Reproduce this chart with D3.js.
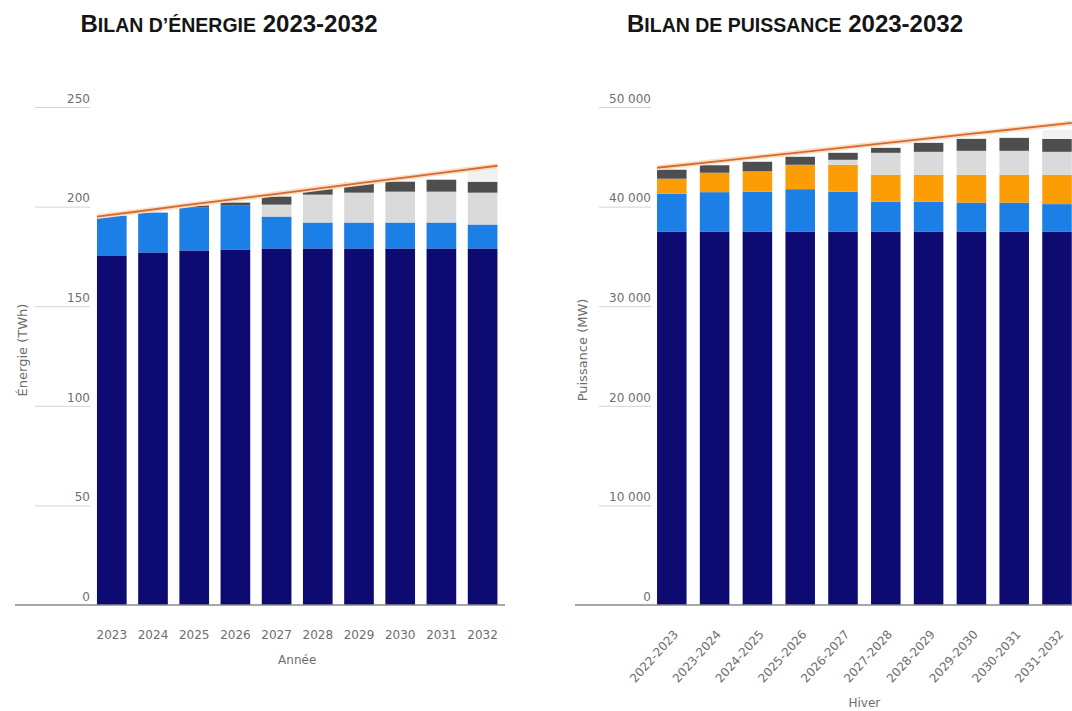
<!DOCTYPE html>
<html>
<head>
<meta charset="utf-8">
<script src="https://cdn.jsdelivr.net/npm/d3@7"></script>
<style>
  body { margin: 0; background: #fff; }
  svg { display: block; }
  .titre { font-family: "Liberation Sans", Arial, sans-serif; font-weight: bold; fill: #151515; }
  .tick text, .lbl { font-family: "DejaVu Sans", Verdana, sans-serif; fill: #6e6e6e; }
</style>
</head>
<body>
<svg id="chart" width="1072" height="711"></svg>
<script>
// --- données : bilan d'énergie (TWh) ---
var annees = ["2023", "2024", "2025", "2026", "2027", "2028", "2029", "2030", "2031", "2032"];
var energieBase = [175.5, 177, 178, 178.5, 179, 179, 179, 179, 179, 179];
var energieBleu = [20, 20, 21.5, 22, 16, 13, 13, 13, 13, 12];
var energieGrisClair = [0, 0, 0, 0, 6, 14, 15, 15.5, 15.5, 16];
var energieGrisFonce = [0, 0, 1, 1.5, 4, 3, 5, 5, 6, 5.5];
var energieClair = [0, 0, 0, 0, 0, 0, 0, 0, 0, 7.5];
var energieDemande = [195, 197.8, 200.7, 203.5, 206.3, 209.2, 212, 214.8, 217.7, 220.5];
var energieTicks = [0, 50, 100, 150, 200, 250];

// --- données : bilan de puissance (MW) ---
var hivers = ["2022-2023", "2023-2024", "2024-2025", "2025-2026", "2026-2027",
              "2027-2028", "2028-2029", "2029-2030", "2030-2031", "2031-2032"];
var puissanceBase = [37500, 37500, 37500, 37500, 37500, 37500, 37500, 37500, 37500, 37500];
var puissanceBleu = [3800, 3950, 4000, 4250, 4000, 3000, 3000, 2900, 2900, 2750];
var puissanceOrange = [1500, 1950, 2050, 2450, 2700, 2700, 2700, 2800, 2800, 2950];
var puissanceGrisClair = [0, 0, 0, 0, 500, 2200, 2300, 2400, 2400, 2300];
var puissanceGrisFonce = [900, 750, 950, 800, 700, 500, 900, 1200, 1300, 1300];
var puissanceClair = [0, 0, 0, 0, 0, 0, 0, 0, 0, 900];
var puissanceDemande = [43900, 44400, 44900, 45400, 45900, 46400, 46900, 47400, 47900, 48400];
var puissanceTicks = [0, 10000, 20000, 30000, 40000, 50000];

var cles = ["base", "bleu", "orange", "grisClair", "grisFonce", "clair"];
var couleurs = {base: "#0d0b72", bleu: "#1b7fe6", orange: "#fd9d05",
                grisClair: "#dadada", grisFonce: "#4e4e4e", clair: "#f1f1f1"};

var svg = d3.select("#chart");
var fr = d3.formatLocale({decimal: ",", thousands: "\u00a0", grouping: [3], currency: ["", " €"]});

function bilan(opt) {
  var g = svg.append("g");
  var rows = opt.cats.map(function(c, i) {
    return {cat: c, base: opt.series.base[i], bleu: opt.series.bleu[i], orange: opt.series.orange[i],
            grisClair: opt.series.grisClair[i], grisFonce: opt.series.grisFonce[i], clair: opt.series.clair[i]};
  });

  var x = d3.scaleBand().domain(opt.cats).range(opt.xRange)
            .paddingInner(opt.pad).paddingOuter(opt.pad / 2);
  var y = d3.scaleLinear().domain([0, opt.yMax]).range([605, 107]);

  // axe y : petits traits avec le libellé au-dessus
  var yAxis = d3.axisLeft(y).tickValues(opt.ticks).tickSize(opt.tickLen).tickFormat(opt.fmt);
  var ay = g.append("g").attr("transform", "translate(" + opt.axisX + ",0)").call(yAxis);
  ay.select(".domain").remove();
  ay.selectAll(".tick line").attr("stroke", "#d4d4d4");
  ay.selectAll(".tick text").attr("x", 0).attr("dy", "-0.4em").style("font-size", "12px");
  ay.selectAll(".tick").filter(function(d) { return d === 0; }).select("line").remove();

  var stack = d3.stack().keys(cles)(rows);
  g.selectAll("g.serie")
    .data(stack)
    .enter().append("g")
    .attr("class", "serie")
    .attr("fill", function(s) { return couleurs[s.key]; })
    .selectAll("rect")
    .data(function(s) { return s; })
    .enter().append("rect")
    .attr("x", function(d) { return x(d.data.cat); })
    .attr("width", x.bandwidth())
    .attr("y", function(d) { return y(d[1]); })
    .attr("height", function(d) { return y(d[0]) - y(d[1]); });

  // ligne de base
  g.append("line")
    .attr("x1", opt.baseX[0]).attr("x2", opt.baseX[1])
    .attr("y1", y(0)).attr("y2", y(0))
    .attr("stroke", "#8a8a8a").attr("stroke-width", 1.5);

  // courbe de la demande, du bord gauche de la 1re barre au bord droit de la dernière
  var xi = d3.scaleLinear().domain([0, opt.cats.length - 1])
             .range([x(opt.cats[0]), x(opt.cats[opt.cats.length - 1]) + x.bandwidth()]);
  var ligne = d3.line().x(function(d, i) { return xi(i); }).y(function(d) { return y(d); });
  g.append("path").datum(opt.demande).attr("d", ligne)
    .attr("fill", "none").attr("stroke", "#fbdcc4").attr("stroke-width", 5);
  g.append("path").datum(opt.demande).attr("d", ligne)
    .attr("fill", "none").attr("stroke", "#d66a2c").attr("stroke-width", 1.8);

  // axe x
  var ax = g.append("g").attr("transform", "translate(0," + y(0) + ")")
            .call(d3.axisBottom(x).tickSize(0).tickPadding(25));
  ax.select(".domain").remove();
  ax.selectAll(".tick text").style("font-size", "12px");
  if (opt.rot) {
    ax.selectAll(".tick text")
      .attr("text-anchor", "end")
      .attr("x", 0).attr("y", 0)
      .attr("dy", "0.35em")
      .attr("transform", "translate(4,27) rotate(-48)");
  }

  g.append("text").attr("class", "lbl")
    .attr("x", (opt.xRange[0] + opt.xRange[1]) / 2).attr("y", opt.xLabelY)
    .attr("text-anchor", "middle").style("font-size", "12px").text(opt.xLabel);

  g.append("text").attr("class", "lbl")
    .attr("transform", "translate(" + opt.yLabelX + ",350) rotate(-90)")
    .attr("text-anchor", "middle").style("font-size", "13px").text(opt.yLabel);

  var t = g.append("text").attr("class", "titre")
    .attr("x", opt.titreX).attr("y", 32).attr("text-anchor", "middle");
  t.append("tspan").style("font-size", "24px").text("B");
  t.append("tspan").style("font-size", "19.5px").text(opt.titre1);
  t.append("tspan").style("font-size", "24px").text(" 2023-2032");
}

bilan({
  cats: annees,
  series: {base: energieBase, bleu: energieBleu, orange: annees.map(function() { return 0; }),
           grisClair: energieGrisClair, grisFonce: energieGrisFonce, clair: energieClair},
  demande: energieDemande,
  ticks: energieTicks, yMax: 250, fmt: d3.format("d"),
  xRange: [91.2, 503.2], pad: 0.28,
  axisX: 90, tickLen: 55, baseX: [15, 505],
  xLabel: "Année", xLabelY: 664, yLabel: "Énergie (TWh)", yLabelX: 27,
  titre1: "ILAN D’ÉNERGIE", titreX: 229, rot: false
});

bilan({
  cats: hivers,
  series: {base: puissanceBase, bleu: puissanceBleu, orange: puissanceOrange,
           grisClair: puissanceGrisClair, grisFonce: puissanceGrisFonce, clair: puissanceClair},
  demande: puissanceDemande,
  ticks: puissanceTicks, yMax: 50000, fmt: fr.format(","),
  xRange: [650.4, 1078.4], pad: 0.31,
  axisX: 651, tickLen: 52, baseX: [575, 1072],
  xLabel: "Hiver", xLabelY: 707, yLabel: "Puissance (MW)", yLabelX: 587,
  titre1: "ILAN DE PUISSANCE", titreX: 795, rot: true
});
</script>
</body>
</html>
